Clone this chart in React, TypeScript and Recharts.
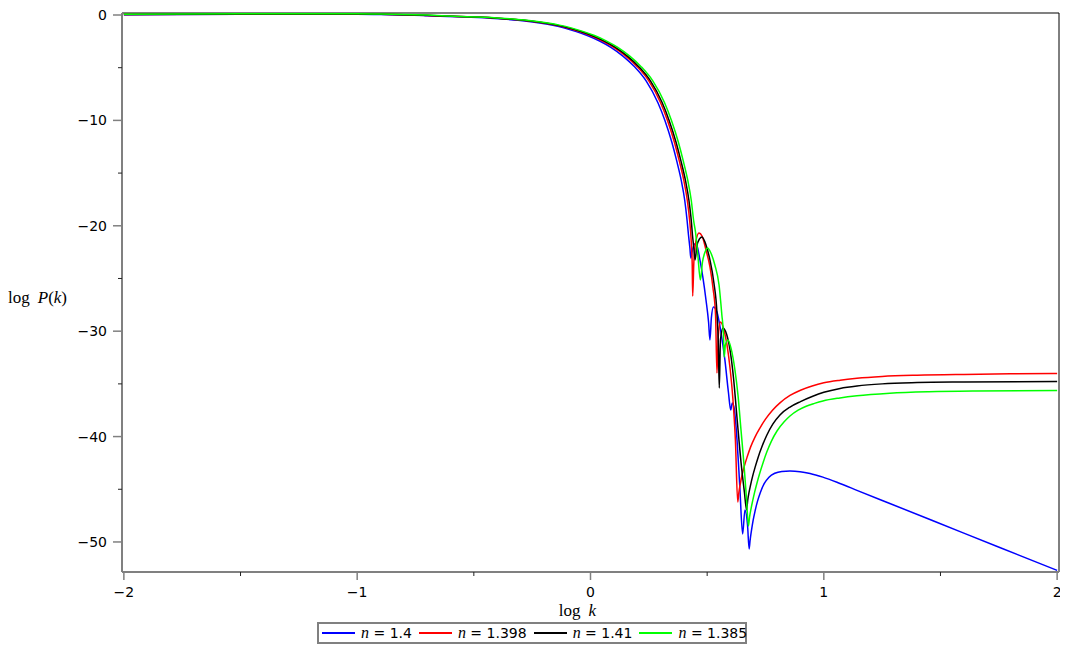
import React from 'react';
import { LineChart, Line, XAxis, YAxis, Legend, ReferenceLine, Label } from 'recharts';

// log k ticks (major every 1, minor every 0.5)
const xTicks = [-2, -1.5, -1, -0.5, 0, 0.5, 1, 1.5, 2];
// log P(k) ticks (major every 10, minor every 5)
const yTicks = [-50, -45, -40, -35, -30, -25, -20, -15, -10, -5, 0];

const nValues = ['1.4', '1.398', '1.41', '1.385'];
const seriesColors = ['#0000ff', '#ff0000', '#000000', '#00ff00'];

// [log k, log P(k)]
const seriesN1400: [number, number][] = [
  [-2.0, 0.03], [-1.5, 0.06], [-1.0, 0.06], [-0.9, 0.04], [-0.8, 0.0], [-0.711, -0.06], [-0.611, -0.14],
  [-0.511, -0.22], [-0.411, -0.33], [-0.311, -0.5], [-0.211, -0.78], [-0.161, -0.98], [-0.111, -1.24],
  [-0.061, -1.57], [-0.011, -1.97], [0.039, -2.47], [0.089, -3.09], [0.139, -3.9], [0.189, -4.92],
  [0.239, -6.27], [0.289, -8.32], [0.319, -10.0], [0.349, -12.1], [0.369, -13.8], [0.389, -15.7],
  [0.404, -17.6], [0.414, -19.5], [0.42, -20.87], [0.426, -22.11], [0.43, -23.06], [0.437, -22.3],
  [0.446, -21.73], [0.455, -21.82], [0.469, -23.24], [0.482, -24.95], [0.495, -27.04], [0.506, -29.13],
  [0.512, -30.83], [0.518, -28.75], [0.527, -27.7], [0.542, -28.18], [0.559, -30.08], [0.576, -32.73],
  [0.591, -35.77], [0.601, -37.48], [0.608, -36.81], [0.617, -37.48], [0.628, -40.32], [0.64, -44.78],
  [0.652, -49.24], [0.662, -46.96], [0.673, -48.39], [0.68, -50.66], [0.684, -49.85], [0.69, -48.9],
  [0.697, -47.95], [0.705, -47.1], [0.715, -46.2], [0.728, -45.3], [0.745, -44.45], [0.765, -43.85],
  [0.79, -43.48], [0.82, -43.31], [0.855, -43.27], [0.898, -43.33], [0.941, -43.5], [0.996, -43.85],
  [1.069, -44.45], [1.142, -45.1], [1.283, -46.35], [1.484, -48.13], [1.754, -50.52], [2.0, -52.7],
];

const seriesN1398: [number, number][] = [
  [-2.0, 0.05], [-1.5, 0.08], [-1.0, 0.08], [-0.9, 0.06], [-0.8, 0.02], [-0.7, -0.04], [-0.6, -0.12],
  [-0.5, -0.2], [-0.4, -0.31], [-0.3, -0.48], [-0.2, -0.76], [-0.15, -0.96], [-0.1, -1.22],
  [-0.05, -1.55], [0.0, -1.95], [0.05, -2.45], [0.1, -3.07], [0.15, -3.88], [0.2, -4.9],
  [0.25, -6.25], [0.3, -8.3], [0.33, -10.0], [0.36, -12.1], [0.38, -13.8], [0.4, -15.7],
  [0.415, -17.6], [0.425, -19.5], [0.431, -21.2], [0.436, -23.72], [0.438, -26.66], [0.443, -23.43],
  [0.452, -21.44], [0.465, -20.68], [0.478, -20.97], [0.495, -22.3], [0.512, -23.91], [0.525, -25.9],
  [0.536, -28.46], [0.542, -33.97], [0.548, -30.36], [0.557, -29.13], [0.572, -29.89], [0.585, -31.31],
  [0.598, -33.49], [0.61, -36.34], [0.621, -40.32], [0.631, -46.2], [0.636, -45.3], [0.642, -44.5],
  [0.65, -43.6], [0.66, -42.75], [0.672, -41.9], [0.686, -41.0], [0.705, -40.05], [0.726, -39.2],
  [0.75, -38.35], [0.78, -37.5], [0.812, -36.8], [0.855, -36.1], [0.9, -35.6], [0.95, -35.2],
  [1.0, -34.9], [1.07, -34.65], [1.142, -34.47], [1.25, -34.3], [1.4, -34.18], [1.6, -34.1],
  [1.8, -34.05], [2.0, -34.01],
];

const seriesN1410: [number, number][] = [
  [-2.0, 0.05], [-1.5, 0.09], [-1.0, 0.09], [-0.9, 0.07], [-0.8, 0.03], [-0.7, -0.03], [-0.594, -0.12],
  [-0.494, -0.2], [-0.394, -0.31], [-0.294, -0.48], [-0.194, -0.76], [-0.144, -0.96], [-0.094, -1.22],
  [-0.044, -1.55], [0.007, -1.95], [0.057, -2.45], [0.107, -3.07], [0.157, -3.88], [0.207, -4.9],
  [0.257, -6.25], [0.307, -8.3], [0.337, -10.0], [0.367, -12.1], [0.387, -13.8], [0.407, -15.7],
  [0.422, -17.6], [0.432, -19.5], [0.437, -20.87], [0.443, -22.11], [0.448, -23.24], [0.456, -21.92],
  [0.467, -21.25], [0.478, -21.06], [0.495, -21.82], [0.512, -23.24], [0.529, -25.43], [0.542, -28.27],
  [0.548, -31.31], [0.552, -35.39], [0.557, -30.83], [0.568, -29.7], [0.583, -30.27], [0.598, -31.78],
  [0.613, -34.44], [0.628, -38.24], [0.645, -42.41], [0.66, -45.35], [0.669, -46.96], [0.674, -46.0],
  [0.679, -45.35], [0.686, -44.6], [0.695, -43.75], [0.705, -42.95], [0.718, -42.0], [0.735, -40.95],
  [0.755, -39.9], [0.782, -38.8], [0.812, -37.95], [0.855, -37.2], [0.9, -36.68], [0.95, -36.2],
  [1.0, -35.8], [1.07, -35.43], [1.142, -35.2], [1.25, -35.0], [1.4, -34.88], [1.6, -34.82], [2.0, -34.77],
];

const seriesN1385: [number, number][] = [
  [-2.0, 0.08], [-1.5, 0.11], [-1.0, 0.11], [-0.9, 0.09], [-0.8, 0.05], [-0.7, -0.01], [-0.583, -0.12],
  [-0.483, -0.2], [-0.383, -0.31], [-0.283, -0.48], [-0.183, -0.76], [-0.133, -0.96], [-0.083, -1.22],
  [-0.033, -1.55], [0.017, -1.95], [0.067, -2.45], [0.117, -3.07], [0.167, -3.88], [0.217, -4.9],
  [0.267, -6.25], [0.317, -8.3], [0.347, -10.0], [0.377, -12.1], [0.397, -13.8], [0.417, -15.7],
  [0.432, -17.6], [0.442, -19.5], [0.45, -20.59], [0.46, -22.77], [0.471, -25.14], [0.48, -23.43],
  [0.491, -22.49], [0.501, -22.11], [0.516, -22.58], [0.533, -23.72], [0.551, -25.62], [0.563, -28.46],
  [0.57, -30.36], [0.573, -32.45], [0.578, -31.31], [0.589, -30.83], [0.602, -31.59], [0.619, -33.68],
  [0.632, -36.05], [0.645, -39.37], [0.658, -42.69], [0.669, -46.02], [0.677, -48.48], [0.682, -47.6],
  [0.688, -46.85], [0.695, -46.1], [0.703, -45.32], [0.713, -44.45], [0.725, -43.5], [0.74, -42.45],
  [0.756, -41.45], [0.775, -40.45], [0.8, -39.45], [0.83, -38.6], [0.855, -38.05], [0.89, -37.5],
  [0.927, -37.1], [0.96, -36.85], [0.996, -36.62], [1.069, -36.33], [1.142, -36.12], [1.283, -35.88],
  [1.45, -35.74], [1.65, -35.67], [2.0, -35.63],
];

const allSeries = [seriesN1400, seriesN1398, seriesN1410, seriesN1385];

const toRows = (s: [number, number][]) => s.map(([x, y]) => ({ x, y }));

const fmt = (v: number) => (v < 0 ? '\u2212' + Math.abs(v) : String(v));

const TICK_FONT = 'DejaVu Sans';
const SERIF = 'Liberation Serif';

const XTick = (props: any) => {
  const { x, y, payload } = props;
  const v = payload.value as number;
  const major = Number.isInteger(v);
  return (
    <g>
      <line x1={x} x2={x} y1={y} y2={y + (major ? 8 : 4)} stroke={major ? '#808080' : '#222'} strokeWidth={major ? 1.5 : 1} />
      {major && (
        <text x={x} y={y + 25} textAnchor="middle" fontFamily={TICK_FONT} fontSize={14} fill="#000">
          {fmt(v)}
        </text>
      )}
    </g>
  );
};

const YTick = (props: any) => {
  const { x, y, payload } = props;
  const v = payload.value as number;
  const major = v % 10 === 0;
  return (
    <g>
      <line x1={x - (major ? 9 : 4)} x2={x} y1={y} y2={y} stroke={major ? '#808080' : '#222'} strokeWidth={major ? 1.5 : 1} />
      {major && (
        <text x={x - 15} y={y + 5} textAnchor="end" fontFamily={TICK_FONT} fontSize={14} fill="#000">
          {fmt(v)}
        </text>
      )}
    </g>
  );
};

const renderLegend = () => (
  <div
    style={{
      boxSizing: 'border-box',
      height: 22,
      width: 430,
      border: '2px solid #808080',
      display: 'flex',
      alignItems: 'center',
      paddingLeft: 3,
      fontFamily: TICK_FONT,
      fontSize: 14,
      color: '#000',
      background: '#fff',
      lineHeight: '18px',
    }}
  >
    {nValues.map((nv, i) => (
      <div key={i} style={{ display: 'flex', alignItems: 'center', marginRight: 7 }}>
        <svg width={33} height={4} style={{ display: 'block' }}>
          <line x1={0} x2={33} y1={2} y2={2} stroke={seriesColors[i]} strokeWidth={2} />
        </svg>
        <span style={{ marginLeft: 6, whiteSpace: 'pre' }}>
          <span style={{ fontFamily: SERIF, fontStyle: 'italic', fontSize: 16 }}>n</span>
          {' = ' + nv}
        </span>
      </div>
    ))}
  </div>
);

const YLabel = (props: any) => {
  const vb = props.viewBox || { x: 0, y: 0, width: 0, height: 0 };
  return (
    <text x={vb.x} y={vb.y + vb.height / 2 + 10} fontFamily={SERIF} fontSize={17} fill="#000">
      <tspan>log</tspan>
      <tspan dx={8} fontStyle="italic">P</tspan>
      <tspan>(</tspan>
      <tspan fontStyle="italic">k</tspan>
      <tspan>)</tspan>
    </text>
  );
};

const XLabel = (props: any) => {
  const vb = props.viewBox || { x: 0, y: 0, width: 0, height: 0 };
  return (
    <text x={vb.x + vb.width / 2 - 13} y={vb.y + 44} textAnchor="middle" fontFamily={SERIF} fontSize={17} fill="#000">
      <tspan>log</tspan>
      <tspan dx={8} fontStyle="italic">k</tspan>
    </text>
  );
};

export default function App() {
  return (
    <LineChart width={1060} height={645} margin={{ top: 5, right: 9, left: 0, bottom: 9 }}>
      <XAxis
        type="number"
        dataKey="x"
        domain={[-2.008, 2.008]}
        ticks={xTicks}
        interval={0}
        allowDataOverflow
        tick={<XTick />}
        tickLine={false}
        tickSize={0}
        tickMargin={0}
        height={50}
        axisLine={{ stroke: '#808080', strokeWidth: 2 }}
      >
        <Label content={<XLabel />} />
      </XAxis>
      <YAxis
        type="number"
        domain={[-52.85, 0.19]}
        ticks={yTicks}
        interval={0}
        allowDataOverflow
        tick={<YTick />}
        tickLine={false}
        tickSize={0}
        tickMargin={0}
        width={114}
        axisLine={{ stroke: '#808080', strokeWidth: 2 }}
      >
        <Label content={<YLabel />} />
      </YAxis>
      <ReferenceLine y={0.19} stroke="#808080" strokeWidth={2} ifOverflow="visible" />
      <ReferenceLine x={2.008} stroke="#000000" strokeWidth={1} ifOverflow="visible" />
      {allSeries.map((s, i) => (
        <Line
          key={i}
          data={toRows(s)}
          dataKey="y"
          name={'n = ' + nValues[i]}
          type="monotone"
          stroke={seriesColors[i]}
          strokeWidth={1.5}
          dot={false}
          activeDot={false}
          isAnimationActive={false}
        />
      ))}
      <Legend
        verticalAlign="bottom"
        align="left"
        content={renderLegend}
        wrapperStyle={{ left: 309, width: 430, height: 22, bottom: 9 }}
      />
    </LineChart>
  );
}
